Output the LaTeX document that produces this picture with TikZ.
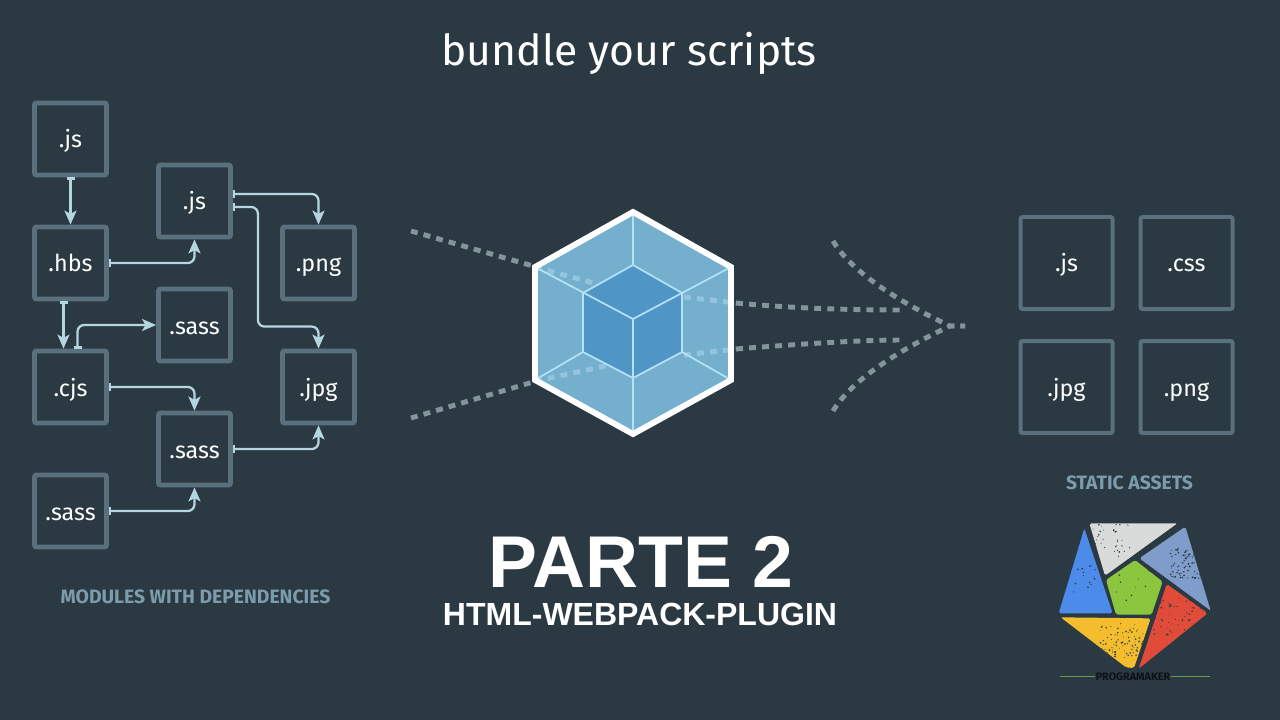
\documentclass[tikz,border=0pt]{standalone}
\usepackage{fontspec}
\setmainfont{Fira Sans}
\newfontfamily\arialf{Liberation Sans}
\usetikzlibrary{arrows.meta,calc}
\definecolor{bgc}{HTML}{2B3A42}
\definecolor{boxc}{HTML}{5A707C}
\definecolor{wirec}{HTML}{B5D5E0}
\definecolor{labc}{HTML}{7C9CAB}
\definecolor{dashc}{HTML}{83949B}
\definecolor{dashin}{HTML}{93C6DE}
\definecolor{hexc}{HTML}{75AFCE}
\definecolor{cubec}{HTML}{4F95C5}
\definecolor{edgec}{HTML}{B4E2F5}
\definecolor{lgrey}{HTML}{D9DADA}
\definecolor{lperi}{HTML}{7F9CCB}
\definecolor{lred}{HTML}{E14B3A}
\definecolor{lyel}{HTML}{F4BD2D}
\definecolor{lblue}{HTML}{4D8BEA}
\definecolor{lgreen}{HTML}{8CC63E}
\definecolor{lline}{HTML}{6A9A4C}
\tikzset{
 x=0.75pt,y=-0.75pt,
 smallbox/.style={draw=boxc,line width=3.6pt,rounded corners=1.5pt,minimum size=54pt,inner sep=0pt,text=white,text height=13.5pt,text depth=0pt,font=\fontsize{17.5}{20}\selectfont},
 bigbox/.style={draw=boxc,line width=3pt,rounded corners=1.5pt,minimum size=69pt,inner sep=0pt,text=white,text height=13.5pt,text depth=0pt,font=\fontsize{17.5}{20}\selectfont},
 wire/.style={draw=wirec,line width=1.7pt,rounded corners=5pt,{Bar[width=6pt,length=1.5pt]}-{Stealth[inset=2.5pt,length=10.5pt,width=9pt]}},
 dots/.style={draw=dashc,line width=3.7pt,dash pattern=on 5.2pt off 4.6pt},
 dotsin/.style={draw=dashin,line width=3.7pt,dash pattern=on 5.2pt off 4.6pt},
 hexedge/.style={draw=edgec,line width=1.3pt},
 caption/.style={text=labc,font=\bfseries\fontsize{14.5}{16}\selectfont,inner sep=0pt},
 fleck/.style={fill=bgc,draw=none},
}
\begin{document}
\begin{tikzpicture}
\fill[bgc] (0,0) rectangle (1280,720);
\useasboundingbox (0,0) rectangle (1280,720);

\node[text=white,inner sep=0pt,font=\fontsize{32}{38}\selectfont] (title) at (629,53) {bundle your scripts};

% module boxes
\node[smallbox] (js1) at (70.5,139) {.js};
\node[smallbox] (hbs) at (70.5,263) {.hbs};
\node[smallbox] (cjs) at (70.5,387) {.cjs};
\node[smallbox] (sassc) at (70.5,511) {.sass};
\node[smallbox] (js2) at (194.5,201) {.js};
\node[smallbox] (sassa) at (194.5,325) {.sass};
\node[smallbox] (sassb) at (194.5,449) {.sass};
\node[smallbox] (png) at (318.5,263) {.png};
\node[smallbox] (jpg) at (318.5,387) {.jpg};

\path[wire] (js1.south) -- (hbs.north);
\path[wire] (hbs.east) -| (js2.south);
\path[wire] ($(js2.east)+(0,-7)$) -| (png.north);
\path[wire] ($(js2.east)+(0,6)$) -- ++(25,0) |- ($(jpg.north)+(-30,-22)$) -| (jpg.north);
\path[wire] ($(hbs.south)+(-7,0)$) -- ($(cjs.north)+(-7,0)$);
\path[wire] ($(cjs.north)+(7,0)$) |- (sassa.west);
\path[wire] (cjs.east) -| (sassb.north);
\path[wire] (sassb.east) -| (jpg.south);
\path[wire] (sassc.east) -| (sassb.south);

\node[caption] (modcap) at (195.5,597) {MODULES WITH DEPENDENCIES};

% dashed streams
\draw[dots] (411,231) -- (533,266);
\draw[dots] (411,418) -- (533,382);
\draw[dots] (736,303) .. controls (800,309) and (860,310) .. (902,310);
\draw[dots] (736,349) .. controls (800,344) and (860,340) .. (902,340);
\draw[dots] (833,241) .. controls (850,270) and (895,300) .. (950,326) -- (965,326);
\draw[dots] (833,411) .. controls (850,382) and (895,352) .. (950,326) -- (965,326);

% hexagon
\coordinate (ht) at (633,212);
\coordinate (hur) at (731,267);
\coordinate (hlr) at (731,380);
\coordinate (hb) at (633,434);
\coordinate (hll) at (535,380);
\coordinate (hul) at (535,267);
\coordinate (ct) at (633,265);
\coordinate (cur) at (682,293);
\coordinate (clr) at (682,352);
\coordinate (cb) at (633,378);
\coordinate (cll) at (583,352);
\coordinate (cul) at (583,293);
\coordinate (cc) at (633,319);
\fill[hexc] (ht)--(hur)--(hlr)--(hb)--(hll)--(hul)--cycle;
\fill[cubec] (ct)--(cur)--(clr)--(cb)--(cll)--(cul)--cycle;
\draw[dotsin] (535,267) -- (597,284);
\draw[dotsin] (535,381) -- (610,365);
\draw[dotsin] (684,297) -- (736,303);
\draw[dotsin] (684,355) -- (736,349);
\draw[hexedge] (ht)--(ct) (hul)--(cc)--(hur) (cc)--(hb) (hll)--(cll)--(cb)--(clr)--(hlr);
\draw[hexedge] (cul)--(ct)--(cur)--(clr) (cul)--(cll);
\draw[white,line width=4.4pt,line join=miter] (ht)--(hur)--(hlr)--(hb)--(hll)--(hul)--cycle;

% asset boxes
\node[bigbox] (ajs) at (1066.5,263) {.js};
\node[bigbox] (acss) at (1186.5,263) {.css};
\node[bigbox] (ajpg) at (1066.5,387) {.jpg};
\node[bigbox] (apng) at (1186.5,387) {.png};
\node[caption] (statcap) at (1129.5,483) {STATIC ASSETS};

% headline
\node[text=white,inner sep=0pt,font=\arialf\bfseries\fontsize{55}{60}\selectfont] (parte) at (641,562) {PARTE 2};
\node[text=white,inner sep=0pt,font=\arialf\bfseries\fontsize{24}{28}\selectfont] (plugin) at (640,614) {HTML-WEBPACK-PLUGIN};

% logo
\begin{scope}[shift={(1040,510)},x=0.25pt,y=-0.25pt]
 \newcommand{\flecks}[5]{%
  \pgfmathsetseed{#5}%
  \foreach \i in {1,...,#4}{%
   \pgfmathsetmacro{\px}{#1+rnd*#3}\pgfmathsetmacro{\py}{#2+rnd*#3*0.8}%
   \pgfmathsetmacro{\ps}{0.3+rnd*0.45}%
   \fill[fleck] (\px,\py) circle (\ps pt);}}
 \begin{scope}[rounded corners=1.4pt]
 \fill[lblue] (133,55)--(218,310)--(56,310)--cycle;
 \fill[lgrey] (148,40)--(412,40)--(195,197)--cycle;
 \fill[lperi] (298,145)--(436,50)--(512,302)--cycle;
 \fill[lred] (380,222)--(503,310)--(296,476)--cycle;
 \fill[lyel] (62,322)--(332,325)--(282,474)--(258,472)--cycle;
 \fill[lgreen] (285,150)--(368,215)--(335,314)--(228,314)--(198,210)--cycle;
 \end{scope}
 \begin{scope}
  \clip (148,40)--(412,40)--(195,197)--cycle;
  \flecks{150}{40}{130}{35}{11}
 \end{scope}
 \begin{scope}
  \clip (298,145)--(436,50)--(512,302)--cycle;
  \flecks{390}{110}{120}{110}{12}
 \end{scope}
 \begin{scope}
  \clip (380,222)--(503,310)--(296,476)--cycle;
  \flecks{340}{260}{150}{60}{13}
 \end{scope}
 \begin{scope}
  \clip (62,322)--(332,325)--(282,474)--(258,472)--cycle;
  \flecks{180}{340}{130}{80}{14}
 \end{scope}
 \begin{scope}
  \clip (133,55)--(218,310)--(56,310)--cycle;
  \flecks{100}{150}{120}{25}{15}
 \end{scope}
 \begin{scope}
  \clip (285,150)--(368,215)--(335,314)--(228,314)--(198,210)--cycle;
  \flecks{220}{170}{130}{10}{16}
 \end{scope}
\end{scope}
\node[text=black!70!bgc,inner sep=0pt,font=\bfseries\fontsize{8.1}{9}\selectfont] (prog) at (1133,676.5) {PROGRAMAKER};
\coordinate (gl) at (1060,676.5);
\coordinate (gr) at (1210,676.5);
\draw[draw=lline,line width=1pt] (gl) -- (prog.west);
\draw[draw=lline,line width=1pt] (prog.east) -- (gr);
\end{tikzpicture}
\end{document}
